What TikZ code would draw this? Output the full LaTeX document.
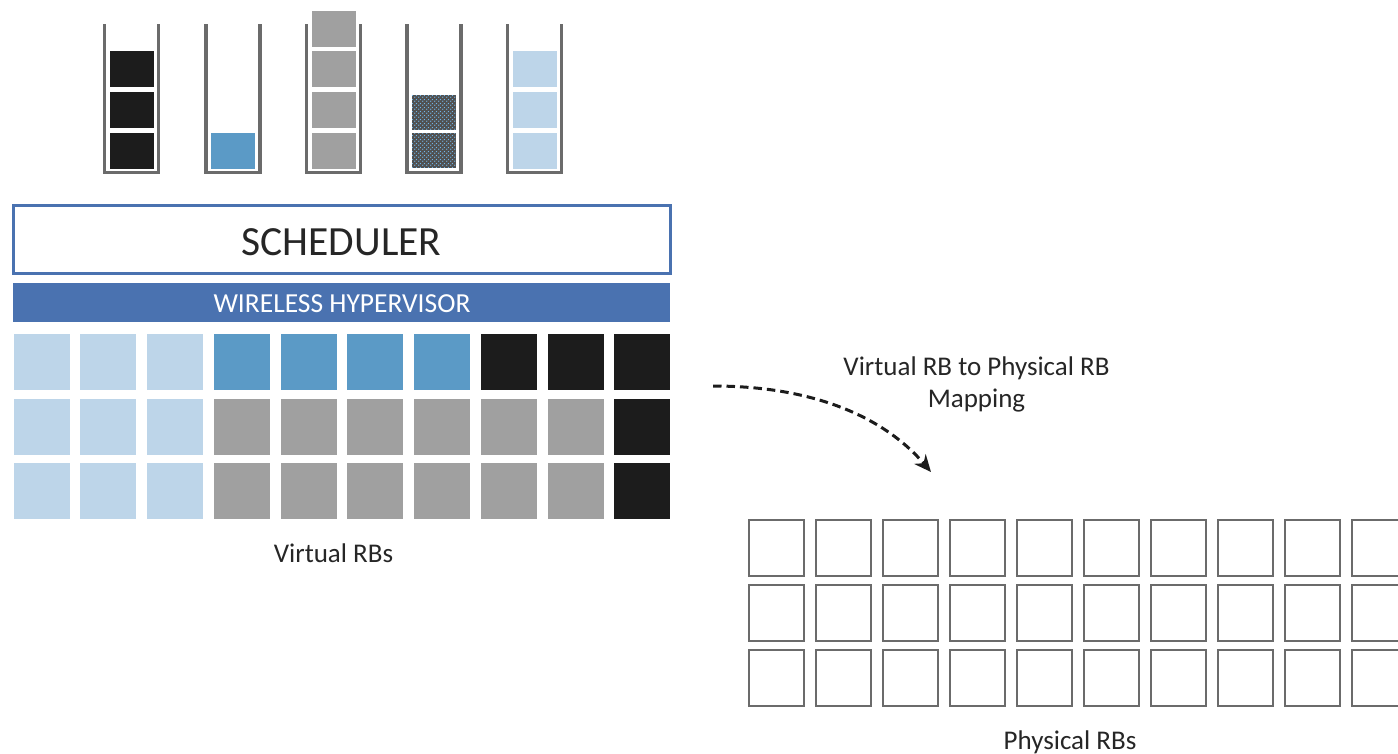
\documentclass[tikz,border=0pt]{standalone}
\usepackage{fontspec}
\setmainfont{Carlito}
\usetikzlibrary{arrows.meta,patterns}
\definecolor{wallgray}{HTML}{6B6B6B}
\definecolor{qblack}{HTML}{1C1C1C}
\definecolor{qgray}{HTML}{A0A0A0}
\definecolor{qblue}{HTML}{5B9AC6}
\definecolor{qlight}{HTML}{BDD5E9}
\definecolor{hvblue}{HTML}{4A72B0}
\definecolor{txt}{HTML}{262626}
\definecolor{dotblue}{HTML}{72B4E6}
\definecolor{patdark}{HTML}{505050}
\pgfdeclarepatternformonly{bluedots}{\pgfqpoint{0pt}{0pt}}{\pgfqpoint{3.6pt}{3.6pt}}{\pgfqpoint{3.6pt}{3.6pt}}{%
  \pgfpathcircle{\pgfqpoint{0.9pt}{0.9pt}}{0.75pt}%
  \pgfpathcircle{\pgfqpoint{2.7pt}{2.7pt}}{0.75pt}%
  \pgfusepath{fill}}
\tikzset{
  wall/.style={draw=wallgray,line width=3.5pt},
  blk/.style={draw=white,line width=0.8pt},
  cell/.style={draw=white,line width=0.8pt},
  pcell/.style={draw=wallgray,line width=2.3pt},
  lbl/.style={text=txt,font=\fontsize{27}{33}\selectfont,inner sep=0pt},
}
\begin{document}
\begin{tikzpicture}[x=1pt,y=-1pt]
\useasboundingbox (0,0) rectangle (1398,753);
\clip (0,0) rectangle (1398,753);
\fill[white] (0,0) rectangle (1398,753);
% queues
\foreach \qx in {103,204.5,305,405.5,506}{
  \draw[wall] (\qx+1.5,24) -- (\qx+1.5,172.5) -- (\qx+55.5,172.5) -- (\qx+55.5,24);
}
% queue 1 black (3)
\foreach \k in {0,1,2}{ \fill[qblack,blk] (109,132-\k*40.7) rectangle (154,169-\k*40.7); }
% queue 2 blue (1)
\fill[qblue,blk] (210.5,132) rectangle (255.5,169);
% queue 3 gray (4)
\foreach \k in {0,1,2,3}{ \fill[qgray,blk] (311,132-\k*40.7) rectangle (356,169-\k*40.7); }
% queue 4 patterned (2)
\foreach \k in {0,1}{
  \fill[patdark] (411.5,132-\k*37.5) rectangle (456.5,168-\k*37.5);
  \fill[pattern=bluedots,pattern color=dotblue] (411.5,132-\k*37.5) rectangle (456.5,168-\k*37.5);
  \draw[blk] (411.5,132-\k*37.5) rectangle (456.5,168-\k*37.5);
}
% queue 5 light blue (3)
\foreach \k in {0,1,2}{ \fill[qlight,blk] (512,132-\k*40.7) rectangle (557,169-\k*40.7); }
% scheduler
\draw[draw=hvblue,line width=3pt,fill=white] (13.5,205.5) rectangle (670,273);
\node[lbl,font=\fontsize{41.5}{48}\selectfont,anchor=base] (sched) at (341.5,255) {SCHEDULER};
% hypervisor
\fill[hvblue] (13,283) rectangle (670,322);
\node[lbl,text=white,font=\fontsize{27.5}{33}\selectfont,anchor=base] (hv) at (342,312) {WIRELESS HYPERVISOR};
% virtual RB grid
\def\rowA{qlight,qlight,qlight,qblue,qblue,qblue,qblue,qblack,qblack,qblack}
\def\rowB{qlight,qlight,qlight,qgray,qgray,qgray,qgray,qgray,qgray,qblack}
\foreach \c [count=\i from 0] in \rowA { \fill[\c,cell] (13+\i*66.75,333) rectangle (70+\i*66.75,390); }
\foreach \c [count=\i from 0] in \rowB {
  \fill[\c,cell] (13+\i*66.75,398) rectangle (70+\i*66.75,455);
  \fill[\c,cell] (13+\i*66.75,462) rectangle (70+\i*66.75,519);
}
\node[lbl,anchor=base] (vlabel) at (333.5,562) {Virtual RBs};
% mapping label and arrow
\node[lbl,anchor=base,align=center] (map1) at (976.5,375) {Virtual RB to Physical RB};
\node[lbl,anchor=base] (map2) at (976.5,407) {Mapping};
\coordinate (as) at (713,386);
\coordinate (ae) at (931,472);
\draw[qblack,line width=3pt,dash pattern=on 8.5pt off 5pt,-{Stealth[length=17pt,width=15pt]}]
  (as) .. controls (815,386) and (885,418) .. (ae);
% physical RB grid
\foreach \i in {0,...,9}{
  \foreach \ry in {520,585,650}{
    \draw[pcell] (749+\i*67,\ry) rectangle (804+\i*67,\ry+56);
  }
}
\node[lbl,anchor=base] (plabel) at (1070,749) {Physical RBs};
\end{tikzpicture}
\end{document}
